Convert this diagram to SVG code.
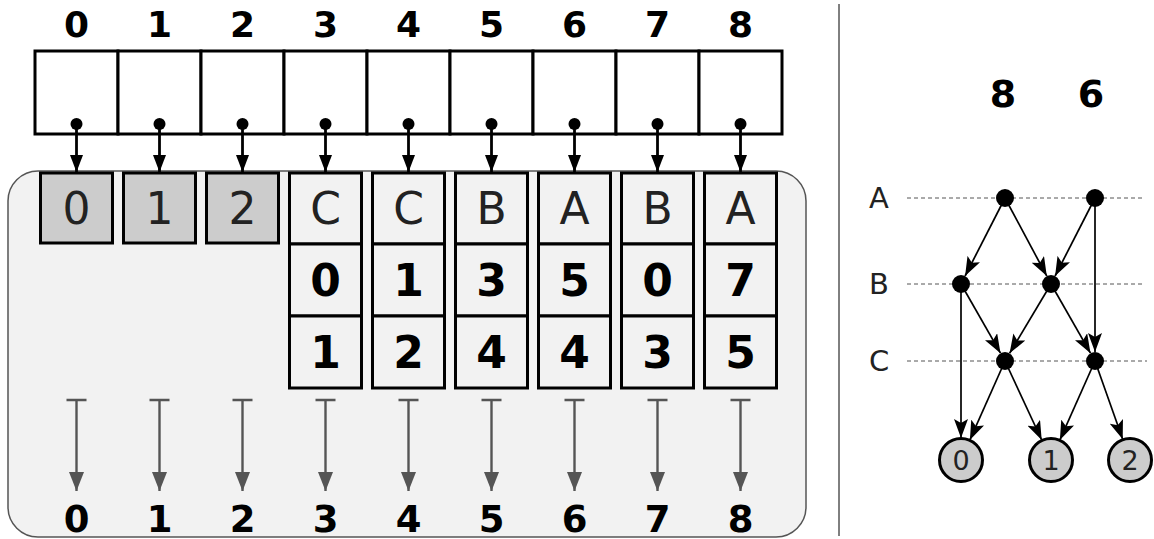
<svg xmlns="http://www.w3.org/2000/svg" width="1154" height="539" viewBox="0 0 1154 539">
<style>
.hdr{font-family:"DejaVu Sans",sans-serif;font-weight:bold;font-size:36px;text-anchor:middle;fill:#000}
.cell{fill:#fff;stroke:#000;stroke-width:3}
.box{fill:#f2f2f2;stroke:#000;stroke-width:3}
.gbox{fill:#cccccc;stroke:#000;stroke-width:3}
.let{font-family:"DejaVu Sans",sans-serif;font-size:44px;text-anchor:middle;fill:#222}
.num{font-family:"DejaVu Sans",sans-serif;font-weight:bold;font-size:44px;text-anchor:middle;fill:#000}
.ptr{stroke:#000;stroke-width:2.8;fill:none}
.out{stroke:#555;stroke-width:2.4;fill:none}
.lvl{font-family:"DejaVu Sans",sans-serif;font-size:29px;text-anchor:middle;fill:#222}
.dash{stroke:#555;stroke-width:1;stroke-dasharray:4 3;fill:none}
.edge{stroke:#000;stroke-width:1.7;fill:none}
.leaf{fill:#cccccc;stroke:#000;stroke-width:3}
.leaft{font-family:"DejaVu Sans",sans-serif;font-size:27px;text-anchor:middle;fill:#222}
</style>
<defs>
<marker id="ahd" viewBox="0 0 17 13" refX="17" refY="6.5" markerWidth="17" markerHeight="13" orient="auto" markerUnits="userSpaceOnUse">
<path d="M0,0 L17,6.5 L0,13 Z" fill="#000"/>
</marker>
<marker id="ahg" viewBox="0 0 19 15" refX="19" refY="7.5" markerWidth="19" markerHeight="15" orient="auto" markerUnits="userSpaceOnUse">
<path d="M0,0 L19,7.5 L0,15 Z" fill="#555"/>
</marker>
<marker id="ahe" viewBox="0 0 19 14" refX="19" refY="7" markerWidth="19" markerHeight="14" orient="auto" markerUnits="userSpaceOnUse">
<path d="M0,0 L19,7 L0,14 L4,7 Z" fill="#000"/>
</marker>
</defs>

<rect id="panel" x="8" y="171" width="798" height="366" rx="30" ry="30" fill="#f2f2f2" stroke="#555" stroke-width="1.5"/>
<line id="divider" x1="839" y1="4" x2="839" y2="536" stroke="#000" stroke-width="1"/>

<g id="header">
<text class="hdr" x="76.5" y="37">0</text>
<text class="hdr" x="159.5" y="37">1</text>
<text class="hdr" x="242.5" y="37">2</text>
<text class="hdr" x="325.5" y="37">3</text>
<text class="hdr" x="408.5" y="37">4</text>
<text class="hdr" x="491.5" y="37">5</text>
<text class="hdr" x="574.5" y="37">6</text>
<text class="hdr" x="657.5" y="37">7</text>
<text class="hdr" x="740.5" y="37">8</text>
</g>

<g id="array">
<rect class="cell" x="35" y="51" width="83" height="83"/>
<rect class="cell" x="118" y="51" width="83" height="83"/>
<rect class="cell" x="201" y="51" width="83" height="83"/>
<rect class="cell" x="284" y="51" width="83" height="83"/>
<rect class="cell" x="367" y="51" width="83" height="83"/>
<rect class="cell" x="450" y="51" width="83" height="83"/>
<rect class="cell" x="533" y="51" width="83" height="83"/>
<rect class="cell" x="616" y="51" width="83" height="83"/>
<rect class="cell" x="699" y="51" width="83" height="83"/>
</g>

<g id="pointers">
<g fill="#000">
<circle cx="76.5" cy="124" r="6"/><circle cx="159.5" cy="124" r="6"/><circle cx="242.5" cy="124" r="6"/>
<circle cx="325.5" cy="124" r="6"/><circle cx="408.5" cy="124" r="6"/><circle cx="491.5" cy="124" r="6"/>
<circle cx="574.5" cy="124" r="6"/><circle cx="657.5" cy="124" r="6"/><circle cx="740.5" cy="124" r="6"/>
</g>
<line class="ptr" x1="76.5" y1="124" x2="76.5" y2="172" marker-end="url(#ahd)"/>
<line class="ptr" x1="159.5" y1="124" x2="159.5" y2="172" marker-end="url(#ahd)"/>
<line class="ptr" x1="242.5" y1="124" x2="242.5" y2="172" marker-end="url(#ahd)"/>
<line class="ptr" x1="325.5" y1="124" x2="325.5" y2="172" marker-end="url(#ahd)"/>
<line class="ptr" x1="408.5" y1="124" x2="408.5" y2="172" marker-end="url(#ahd)"/>
<line class="ptr" x1="491.5" y1="124" x2="491.5" y2="172" marker-end="url(#ahd)"/>
<line class="ptr" x1="574.5" y1="124" x2="574.5" y2="172" marker-end="url(#ahd)"/>
<line class="ptr" x1="657.5" y1="124" x2="657.5" y2="172" marker-end="url(#ahd)"/>
<line class="ptr" x1="740.5" y1="124" x2="740.5" y2="172" marker-end="url(#ahd)"/>
</g>

<g id="leaf-entries">
<rect class="gbox" x="40.5" y="173" width="72" height="70"/><text class="let" x="76.5" y="224">0</text>
<rect class="gbox" x="123.5" y="173" width="72" height="70"/><text class="let" x="159.5" y="224">1</text>
<rect class="gbox" x="206.5" y="173" width="72" height="70"/><text class="let" x="242.5" y="224">2</text>
</g>

<g id="node3">
<rect class="box" x="289.5" y="173" width="72" height="71"/><rect class="box" x="289.5" y="244" width="72" height="72"/><rect class="box" x="289.5" y="316" width="72" height="72"/>
<text class="let" x="325.5" y="224">C</text><text class="num" x="325.5" y="296">0</text><text class="num" x="325.5" y="368">1</text>
</g>
<g id="node4">
<rect class="box" x="372.5" y="173" width="72" height="71"/><rect class="box" x="372.5" y="244" width="72" height="72"/><rect class="box" x="372.5" y="316" width="72" height="72"/>
<text class="let" x="408.5" y="224">C</text><text class="num" x="408.5" y="296">1</text><text class="num" x="408.5" y="368">2</text>
</g>
<g id="node5">
<rect class="box" x="455.5" y="173" width="72" height="71"/><rect class="box" x="455.5" y="244" width="72" height="72"/><rect class="box" x="455.5" y="316" width="72" height="72"/>
<text class="let" x="491.5" y="224">B</text><text class="num" x="491.5" y="296">3</text><text class="num" x="491.5" y="368">4</text>
</g>
<g id="node6">
<rect class="box" x="538.5" y="173" width="72" height="71"/><rect class="box" x="538.5" y="244" width="72" height="72"/><rect class="box" x="538.5" y="316" width="72" height="72"/>
<text class="let" x="574.5" y="224">A</text><text class="num" x="574.5" y="296">5</text><text class="num" x="574.5" y="368">4</text>
</g>
<g id="node7">
<rect class="box" x="621.5" y="173" width="72" height="71"/><rect class="box" x="621.5" y="244" width="72" height="72"/><rect class="box" x="621.5" y="316" width="72" height="72"/>
<text class="let" x="657.5" y="224">B</text><text class="num" x="657.5" y="296">0</text><text class="num" x="657.5" y="368">3</text>
</g>
<g id="node8">
<rect class="box" x="704.5" y="173" width="72" height="71"/><rect class="box" x="704.5" y="244" width="72" height="72"/><rect class="box" x="704.5" y="316" width="72" height="72"/>
<text class="let" x="740.5" y="224">A</text><text class="num" x="740.5" y="296">7</text><text class="num" x="740.5" y="368">5</text>
</g>

<g id="outputs">
<path class="out" d="M66.5,400 H86.5 M149.5,400 H169.5 M232.5,400 H252.5 M315.5,400 H335.5 M398.5,400 H418.5 M481.5,400 H501.5 M564.5,400 H584.5 M647.5,400 H667.5 M730.5,400 H750.5"/>
<line class="out" x1="76.5" y1="400" x2="76.5" y2="491" marker-end="url(#ahg)"/>
<line class="out" x1="159.5" y1="400" x2="159.5" y2="491" marker-end="url(#ahg)"/>
<line class="out" x1="242.5" y1="400" x2="242.5" y2="491" marker-end="url(#ahg)"/>
<line class="out" x1="325.5" y1="400" x2="325.5" y2="491" marker-end="url(#ahg)"/>
<line class="out" x1="408.5" y1="400" x2="408.5" y2="491" marker-end="url(#ahg)"/>
<line class="out" x1="491.5" y1="400" x2="491.5" y2="491" marker-end="url(#ahg)"/>
<line class="out" x1="574.5" y1="400" x2="574.5" y2="491" marker-end="url(#ahg)"/>
<line class="out" x1="657.5" y1="400" x2="657.5" y2="491" marker-end="url(#ahg)"/>
<line class="out" x1="740.5" y1="400" x2="740.5" y2="491" marker-end="url(#ahg)"/>
</g>

<g id="footer">
<text class="hdr" x="76.5" y="532" style="font-size:37px">0</text>
<text class="hdr" x="159.5" y="532" style="font-size:37px">1</text>
<text class="hdr" x="242.5" y="532" style="font-size:37px">2</text>
<text class="hdr" x="325.5" y="532" style="font-size:37px">3</text>
<text class="hdr" x="408.5" y="532" style="font-size:37px">4</text>
<text class="hdr" x="491.5" y="532" style="font-size:37px">5</text>
<text class="hdr" x="574.5" y="532" style="font-size:37px">6</text>
<text class="hdr" x="657.5" y="532" style="font-size:37px">7</text>
<text class="hdr" x="740.5" y="532" style="font-size:37px">8</text>
</g>

<g id="roots">
<text class="hdr" x="1003" y="107" style="font-size:38px">8</text>
<text class="hdr" x="1091" y="107" style="font-size:38px">6</text>
</g>

<g id="levels">
<text class="lvl" x="879" y="208">A</text>
<text class="lvl" x="879" y="294">B</text>
<text class="lvl" x="879" y="371">C</text>
<line class="dash" x1="907" y1="198" x2="1143" y2="198"/>
<line class="dash" x1="907" y1="284" x2="1143" y2="284"/>
<line class="dash" x1="907" y1="361" x2="1147" y2="361"/>
</g>

<g id="connectors">
<line class="edge" x1="1005" y1="198" x2="965.1" y2="276" marker-end="url(#ahe)"/>
<line class="edge" x1="1005" y1="198" x2="1046.8" y2="276.1" marker-end="url(#ahe)"/>
<line class="edge" x1="1095" y1="198" x2="1055.1" y2="276" marker-end="url(#ahe)"/>
<line class="edge" x1="1095" y1="198" x2="1095" y2="352" marker-end="url(#ahe)"/>
<line class="edge" x1="961" y1="284" x2="961" y2="438" marker-end="url(#ahe)"/>
<line class="edge" x1="961" y1="284" x2="1000.5" y2="353.2" marker-end="url(#ahe)"/>
<line class="edge" x1="1051" y1="284" x2="1009.6" y2="353.3" marker-end="url(#ahe)"/>
<line class="edge" x1="1051" y1="284" x2="1090.5" y2="353.2" marker-end="url(#ahe)"/>
<line class="edge" x1="1005" y1="361" x2="969.9" y2="439.9" marker-end="url(#ahe)"/>
<line class="edge" x1="1005" y1="361" x2="1041.7" y2="440" marker-end="url(#ahe)"/>
<line class="edge" x1="1095" y1="361" x2="1059.9" y2="439.9" marker-end="url(#ahe)"/>
<line class="edge" x1="1095" y1="361" x2="1122.7" y2="439.3" marker-end="url(#ahe)"/>
</g>

<g id="gA1"><circle cx="1005" cy="198" r="9" fill="#000"/></g>
<g id="gA2"><circle cx="1095" cy="198" r="9" fill="#000"/></g>
<g id="gB1"><circle cx="961" cy="284" r="9" fill="#000"/></g>
<g id="gB2"><circle cx="1051" cy="284" r="9" fill="#000"/></g>
<g id="gC1"><circle cx="1005" cy="361" r="9" fill="#000"/></g>
<g id="gC2"><circle cx="1095" cy="361" r="9" fill="#000"/></g>
<g id="leaf0"><circle class="leaf" cx="961" cy="460" r="21.5"/><text class="leaft" x="961" y="470">0</text></g>
<g id="leaf1"><circle class="leaf" cx="1051" cy="460" r="21.5"/><text class="leaft" x="1051" y="470">1</text></g>
<g id="leaf2"><circle class="leaf" cx="1130" cy="460" r="21.5"/><text class="leaft" x="1130" y="470">2</text></g>
</svg>
